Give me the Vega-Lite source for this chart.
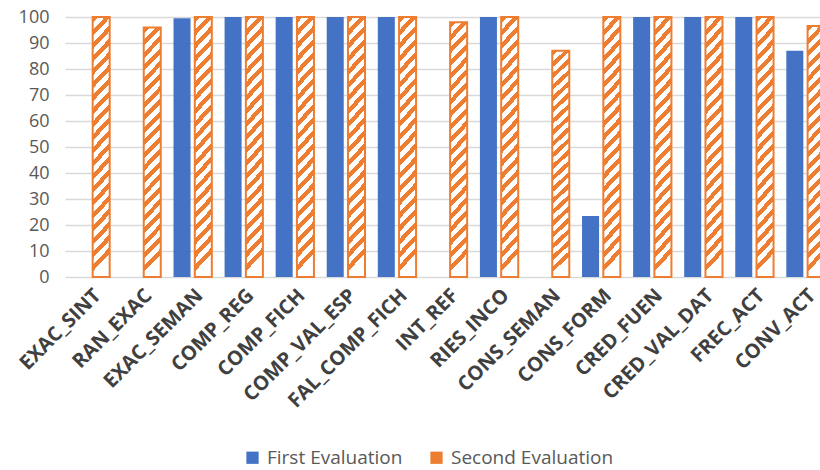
{
  "$schema": "https://vega.github.io/schema/vega-lite/v6.json",
  "autosize": "none",
  "width": 766,
  "height": 260,
  "padding": {"left": 65, "top": 17, "right": 0, "bottom": 193},
  "background": "white",
  "data": {
    "values": [
      {"cat": "EXAC_SINT", "series": "Second Evaluation", "value": 100},
      {"cat": "RAN_EXAC", "series": "Second Evaluation", "value": 96},
      {"cat": "EXAC_SEMAN", "series": "First Evaluation", "value": 99.5},
      {"cat": "EXAC_SEMAN", "series": "Second Evaluation", "value": 100},
      {"cat": "COMP_REG", "series": "First Evaluation", "value": 100},
      {"cat": "COMP_REG", "series": "Second Evaluation", "value": 100},
      {"cat": "COMP_FICH", "series": "First Evaluation", "value": 100},
      {"cat": "COMP_FICH", "series": "Second Evaluation", "value": 100},
      {"cat": "COMP_VAL_ESP", "series": "First Evaluation", "value": 100},
      {"cat": "COMP_VAL_ESP", "series": "Second Evaluation", "value": 100},
      {"cat": "FAL_COMP_FICH", "series": "First Evaluation", "value": 100},
      {"cat": "FAL_COMP_FICH", "series": "Second Evaluation", "value": 100},
      {"cat": "INT_REF", "series": "Second Evaluation", "value": 98},
      {"cat": "RIES_INCO", "series": "First Evaluation", "value": 100},
      {"cat": "RIES_INCO", "series": "Second Evaluation", "value": 100},
      {"cat": "CONS_SEMAN", "series": "Second Evaluation", "value": 87},
      {"cat": "CONS_FORM", "series": "First Evaluation", "value": 23.5},
      {"cat": "CONS_FORM", "series": "Second Evaluation", "value": 100},
      {"cat": "CRED_FUEN", "series": "First Evaluation", "value": 100},
      {"cat": "CRED_FUEN", "series": "Second Evaluation", "value": 100},
      {"cat": "CRED_VAL_DAT", "series": "First Evaluation", "value": 100},
      {"cat": "CRED_VAL_DAT", "series": "Second Evaluation", "value": 100},
      {"cat": "FREC_ACT", "series": "First Evaluation", "value": 100},
      {"cat": "FREC_ACT", "series": "Second Evaluation", "value": 100},
      {"cat": "CONV_ACT", "series": "First Evaluation", "value": 87},
      {"cat": "CONV_ACT", "series": "Second Evaluation", "value": 96.5}
    ]
  },
  "encoding": {
    "x": {
      "field": "cat",
      "type": "nominal",
      "sort": null,
      "scale": {"paddingInner": 0.25, "paddingOuter": 0.125},
      "axis": {
        "title": null,
        "labelAngle": -45,
        "labelFont": "Open Sans",
        "labelFontWeight": "bold",
        "labelFontSize": 20,
        "labelColor": "#404040",
        "labelPadding": 8,
        "domain": false,
        "ticks": false
      }
    },
    "xOffset": {
      "field": "series",
      "type": "nominal",
      "sort": ["First Evaluation", "Second Evaluation"],
      "scale": {"domain": ["First Evaluation", "Second Evaluation"], "paddingInner": 0.2}
    },
    "y": {
      "field": "value",
      "type": "quantitative",
      "scale": {"domain": [0, 100], "nice": false},
      "axis": {
        "title": null,
        "values": [0, 10, 20, 30, 40, 50, 60, 70, 80, 90, 100],
        "labelFont": "Open Sans",
        "labelFontSize": 18,
        "labelColor": "#595959",
        "labelPadding": 16,
        "domain": false,
        "ticks": false,
        "gridColor": "#D9D9D9",
        "gridWidth": 1.3
      }
    }
  },
  "layer": [
    {
      "mark": {"type": "bar", "clip": false},
      "encoding": {
        "color": {
          "field": "series",
          "type": "nominal",
          "sort": ["First Evaluation", "Second Evaluation"],
          "scale": {"domain": ["First Evaluation", "Second Evaluation"], "range": ["#4472C4", "#ED7D31"]},
          "legend": {
            "title": null,
            "orient": "none",
            "legendX": 178,
            "legendY": 431,
            "direction": "horizontal",
            "symbolType": "square",
            "symbolSize": 150,
            "labelFont": "Open Sans",
            "labelFontSize": 19,
            "labelColor": "#595959",
            "labelOffset": 5,
            "labelLimit": 400,
            "columnPadding": 24,
            "encode": {
              "symbols": {
                "update": {
                  "fill": [
                    {"test": "datum.index === 1", "value": {"gradient": "linear", "x1": 0, "y1": 1, "x2": 1, "y2": 0,
                      "stops": [
                        {"offset": 0, "color": "#ED7D31"}, {"offset": 0.42, "color": "#ED7D31"},
                        {"offset": 0.42, "color": "#FFFFFF"}, {"offset": 0.62, "color": "#FFFFFF"},
                        {"offset": 0.62, "color": "#ED7D31"}, {"offset": 1, "color": "#ED7D31"}
                      ]}},
                    {"value": "#4472C4"}
                  ]
                }
              }
            }
          }
        }
      }
    },
    {
      "transform": [{"filter": "datum.series === 'Second Evaluation'"}],
      "mark": {
        "type": "bar",
        "clip": false,
        "stroke": "#ED7D31",
        "strokeWidth": 2,
        "fill": {
          "gradient": "linear", "x1": 0, "y1": 0, "x2": 0.07, "y2": 1,
          "stops": [
            {"offset": 0, "color": "#ED7D31"}, {"offset": 0.024, "color": "#ED7D31"}, {"offset": 0.024, "color": "#FFFFFF"}, {"offset": 0.05, "color": "#FFFFFF"},
            {"offset": 0.05, "color": "#ED7D31"}, {"offset": 0.074, "color": "#ED7D31"}, {"offset": 0.074, "color": "#FFFFFF"}, {"offset": 0.1, "color": "#FFFFFF"},
            {"offset": 0.1, "color": "#ED7D31"}, {"offset": 0.124, "color": "#ED7D31"}, {"offset": 0.124, "color": "#FFFFFF"}, {"offset": 0.15, "color": "#FFFFFF"},
            {"offset": 0.15, "color": "#ED7D31"}, {"offset": 0.174, "color": "#ED7D31"}, {"offset": 0.174, "color": "#FFFFFF"}, {"offset": 0.2, "color": "#FFFFFF"},
            {"offset": 0.2, "color": "#ED7D31"}, {"offset": 0.224, "color": "#ED7D31"}, {"offset": 0.224, "color": "#FFFFFF"}, {"offset": 0.25, "color": "#FFFFFF"},
            {"offset": 0.25, "color": "#ED7D31"}, {"offset": 0.274, "color": "#ED7D31"}, {"offset": 0.274, "color": "#FFFFFF"}, {"offset": 0.3, "color": "#FFFFFF"},
            {"offset": 0.3, "color": "#ED7D31"}, {"offset": 0.324, "color": "#ED7D31"}, {"offset": 0.324, "color": "#FFFFFF"}, {"offset": 0.35, "color": "#FFFFFF"},
            {"offset": 0.35, "color": "#ED7D31"}, {"offset": 0.374, "color": "#ED7D31"}, {"offset": 0.374, "color": "#FFFFFF"}, {"offset": 0.4, "color": "#FFFFFF"},
            {"offset": 0.4, "color": "#ED7D31"}, {"offset": 0.424, "color": "#ED7D31"}, {"offset": 0.424, "color": "#FFFFFF"}, {"offset": 0.45, "color": "#FFFFFF"},
            {"offset": 0.45, "color": "#ED7D31"}, {"offset": 0.474, "color": "#ED7D31"}, {"offset": 0.474, "color": "#FFFFFF"}, {"offset": 0.5, "color": "#FFFFFF"},
            {"offset": 0.5, "color": "#ED7D31"}, {"offset": 0.524, "color": "#ED7D31"}, {"offset": 0.524, "color": "#FFFFFF"}, {"offset": 0.55, "color": "#FFFFFF"},
            {"offset": 0.55, "color": "#ED7D31"}, {"offset": 0.574, "color": "#ED7D31"}, {"offset": 0.574, "color": "#FFFFFF"}, {"offset": 0.6, "color": "#FFFFFF"},
            {"offset": 0.6, "color": "#ED7D31"}, {"offset": 0.624, "color": "#ED7D31"}, {"offset": 0.624, "color": "#FFFFFF"}, {"offset": 0.65, "color": "#FFFFFF"},
            {"offset": 0.65, "color": "#ED7D31"}, {"offset": 0.674, "color": "#ED7D31"}, {"offset": 0.674, "color": "#FFFFFF"}, {"offset": 0.7, "color": "#FFFFFF"},
            {"offset": 0.7, "color": "#ED7D31"}, {"offset": 0.724, "color": "#ED7D31"}, {"offset": 0.724, "color": "#FFFFFF"}, {"offset": 0.75, "color": "#FFFFFF"},
            {"offset": 0.75, "color": "#ED7D31"}, {"offset": 0.774, "color": "#ED7D31"}, {"offset": 0.774, "color": "#FFFFFF"}, {"offset": 0.8, "color": "#FFFFFF"},
            {"offset": 0.8, "color": "#ED7D31"}, {"offset": 0.824, "color": "#ED7D31"}, {"offset": 0.824, "color": "#FFFFFF"}, {"offset": 0.85, "color": "#FFFFFF"},
            {"offset": 0.85, "color": "#ED7D31"}, {"offset": 0.874, "color": "#ED7D31"}, {"offset": 0.874, "color": "#FFFFFF"}, {"offset": 0.9, "color": "#FFFFFF"},
            {"offset": 0.9, "color": "#ED7D31"}, {"offset": 0.924, "color": "#ED7D31"}, {"offset": 0.924, "color": "#FFFFFF"}, {"offset": 0.95, "color": "#FFFFFF"},
            {"offset": 0.95, "color": "#ED7D31"}, {"offset": 0.974, "color": "#ED7D31"}, {"offset": 0.974, "color": "#FFFFFF"}, {"offset": 1, "color": "#FFFFFF"}
          ]
        }
      }
    }
  ],
  "config": {
    "view": {"stroke": null},
    "font": "Open Sans"
  }
}
